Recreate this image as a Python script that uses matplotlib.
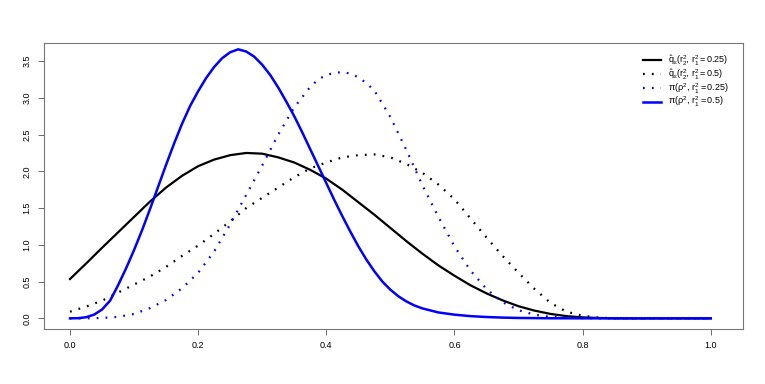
import matplotlib
matplotlib.use("Agg")
import matplotlib.pyplot as plt

plt.rcParams["font.family"] = ["Liberation Sans", "DejaVu Sans"]
plt.rcParams["mathtext.fontset"] = "custom"
plt.rcParams["mathtext.rm"] = "Liberation Sans"
plt.rcParams["mathtext.it"] = "Liberation Sans"
plt.rcParams["mathtext.bf"] = "Liberation Sans:bold"

# values; x grid for the two black curves (step 0.025)
x_q = [0.0, 0.025, 0.05, 0.075, 0.1, 0.125, 0.15, 0.175, 0.2, 0.225,
       0.25, 0.275, 0.3, 0.325, 0.35, 0.375, 0.4, 0.425, 0.45, 0.475,
       0.5, 0.525, 0.55, 0.575, 0.6, 0.625, 0.65, 0.675, 0.7, 0.725,
       0.75, 0.775, 0.8, 0.825, 0.85, 0.875, 0.9, 0.925, 0.95, 0.975, 1.0]
q_025 = [0.535, 0.745, 0.96, 1.17, 1.38, 1.59, 1.78, 1.94, 2.07, 2.16,
         2.22, 2.25, 2.24, 2.19, 2.12, 2.02, 1.90, 1.75, 1.58, 1.41,
         1.23, 1.05, 0.88, 0.72, 0.58, 0.45, 0.34, 0.245, 0.165, 0.105,
         0.06, 0.03, 0.013, 0.005, 0.001, 0.0, 0.0, 0.0, 0.0, 0.0, 0.0]
q_05 = [0.09, 0.16, 0.24, 0.35, 0.46, 0.57, 0.70, 0.85, 0.99, 1.15,
        1.32, 1.50, 1.64, 1.78, 1.92, 2.04, 2.12, 2.19, 2.22, 2.23,
        2.19, 2.10, 1.98, 1.82, 1.62, 1.36, 1.10, 0.85, 0.62, 0.40,
        0.21, 0.09, 0.035, 0.01, 0.0, 0.0, 0.0, 0.0, 0.0, 0.0, 0.0]

# blue dotted: finer around the peak
x_pi_025 = [0.0, 0.025, 0.05, 0.075, 0.1, 0.125, 0.15, 0.175, 0.2, 0.225,
            0.25, 0.275, 0.3, 0.325, 0.35, 0.375, 0.3875, 0.4, 0.4125, 0.425,
            0.4375, 0.45, 0.4625, 0.475, 0.5, 0.525, 0.55, 0.575, 0.6, 0.625,
            0.65, 0.675, 0.7, 0.725, 0.75, 0.775, 0.8, 0.825, 0.9, 1.0]
pi_025 = [0.0, 0.0, 0.005, 0.02, 0.06, 0.14, 0.25, 0.41, 0.62, 0.91,
          1.28, 1.68, 2.08, 2.50, 2.87, 3.15, 3.25, 3.31, 3.34, 3.35,
          3.33, 3.28, 3.20, 3.10, 2.74, 2.29, 1.81, 1.38, 0.98, 0.65,
          0.40, 0.22, 0.11, 0.05, 0.02, 0.008, 0.003, 0.0, 0.0, 0.0]

# blue solid: finer steps, it bends sharply
x_pi_05 = [0.0, 0.0125, 0.025, 0.0375, 0.05, 0.0625, 0.075, 0.0875, 0.1,
           0.1125, 0.125, 0.1375, 0.15, 0.1625, 0.175, 0.1875, 0.2, 0.2125,
           0.225, 0.2375, 0.25, 0.2625, 0.275, 0.2875, 0.3, 0.3125, 0.325,
           0.3375, 0.35, 0.3625, 0.375, 0.3875, 0.4, 0.4125, 0.425, 0.4375,
           0.45, 0.4625, 0.475, 0.4875, 0.5, 0.5125, 0.525, 0.5375, 0.55,
           0.575, 0.6, 0.625, 0.65, 0.675, 0.7, 0.75, 0.8, 0.9, 1.0]
pi_05 = [0.0, 0.002, 0.015, 0.05, 0.12, 0.24, 0.45, 0.68, 0.93,
         1.20, 1.49, 1.79, 2.09, 2.38, 2.65, 2.89, 3.09, 3.27,
         3.42, 3.54, 3.62, 3.66, 3.63, 3.56, 3.45, 3.31, 3.14,
         2.95, 2.75, 2.53, 2.30, 2.07, 1.84, 1.61, 1.39, 1.18,
         0.98, 0.80, 0.64, 0.50, 0.39, 0.30, 0.23, 0.175, 0.135,
         0.08, 0.05, 0.03, 0.018, 0.01, 0.005, 0.001, 0.0, 0.0, 0.0]

labels = [r"$\hat{\mathrm{q}}_\epsilon(\mathrm{r}_2^2,\,\mathrm{r}_1^2 = 0.25)$",
          r"$\hat{\mathrm{q}}_\epsilon(\mathrm{r}_2^2,\,\mathrm{r}_1^2 = 0.5)$",
          r"$\pi(\rho^2,\,\mathrm{r}_1^2 = 0.25)$",
          r"$\pi(\rho^2,\,\mathrm{r}_1^2 = 0.5)$"]
xticks = [0.0, 0.2, 0.4, 0.6, 0.8, 1.0]
yticks = [0.0, 0.5, 1.0, 1.5, 2.0, 2.5, 3.0, 3.5]

dots = (0, (0.8, 3.2))

fig = plt.figure(figsize=(7.65, 3.84), dpi=100)
ax = fig.add_axes([44 / 765, 1 - 328.7 / 384, 698.5 / 765, 285.7 / 384])

ax.plot(x_q, q_025, color="black", lw=1.6, label=labels[0])
ax.plot(x_q, q_05, color="black", lw=1.6, ls=dots, label=labels[1])
ax.plot(x_pi_025, pi_025, color="blue", lw=1.6, ls=dots, label=labels[2])
ax.plot(x_pi_05, pi_05, color="blue", lw=1.8, label=labels[3])

ax.set_xlim(-0.0406, 1.0496)
ax.set_ylim(-0.141, 3.746)
ax.set_xticks(xticks)
ax.set_yticks(yticks)
ax.set_xticklabels([f"{v:.1f}" for v in xticks])
ax.set_yticklabels([f"{v:.1f}" for v in yticks], rotation=90, va="center")
ax.tick_params(labelsize=6.5, length=4, width=0.6, color="#555555", pad=5)
for s in ax.spines.values():
    s.set_color("#777777")
    s.set_linewidth(0.8)

ax.legend(loc="upper left", bbox_to_anchor=(0.858, 0.962), frameon=False,
          fontsize=6.5, handlelength=2.0, handletextpad=0.7,
          labelspacing=-0.05, borderpad=0, borderaxespad=0)

fig.savefig("out.png", dpi=100)
